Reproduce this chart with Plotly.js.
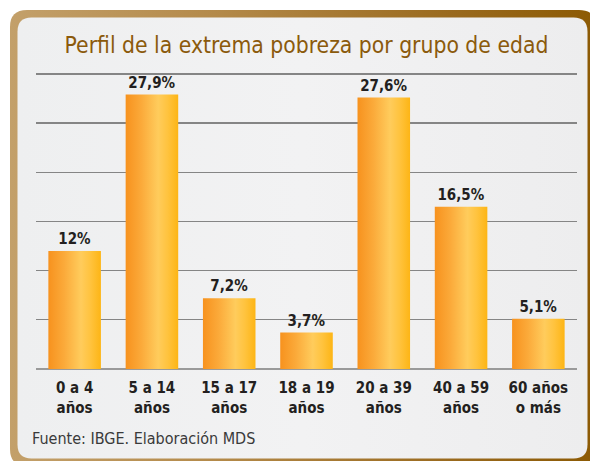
<!DOCTYPE html>
<html>
<head>
<meta charset="utf-8">
<script src="https://cdn.plot.ly/plotly-3.0.1.min.js"></script>
<style>
  html, body { margin: 0; padding: 0; background: #ffffff; }
  #chart { width: 590px; height: 461px; }
</style>
</head>
<body>
<div id="chart"></div>
<script>
// ---- Data ----
const categories = ['0 a 4 años', '5 a 14 años', '15 a 17 años', '18 a 19 años', '20 a 39 años', '40 a 59 años', '60 años o más'];
const tickLabels = ['0 a 4<br>años', '5 a 14<br>años', '15 a 17<br>años', '18 a 19<br>años', '20 a 39<br>años', '40 a 59<br>años', '60 años<br>o más'];
const values = [12, 27.9, 7.2, 3.7, 27.6, 16.5, 5.1];
const valueLabels = ['12%', '27,9%', '7,2%', '3,7%', '27,6%', '16,5%', '5,1%'];
const titleText = 'Perfil de la extrema pobreza por grupo de edad';
const sourceText = 'Fuente: IBGE. Elaboración MDS';

// ---- Layout helpers (pixel -> paper) ----
const W = 590, H = 461;
const M = { l: 36, r: 13, t: 69, b: 92 };
const PW = W - M.l - M.r, PH = H - M.t - M.b;
const px = x => ((x - M.l) / PW).toFixed(5);
const py = y => ((H - M.b - y) / PH).toFixed(5);
function roundRect(x0, y0, x1, y1, r) {
  return 'M' + px(x0 + r) + ',' + py(y0) +
    ' L' + px(x1 - r) + ',' + py(y0) +
    ' Q' + px(x1) + ',' + py(y0) + ' ' + px(x1) + ',' + py(y0 + r) +
    ' L' + px(x1) + ',' + py(y1 - r) +
    ' Q' + px(x1) + ',' + py(y1) + ' ' + px(x1 - r) + ',' + py(y1) +
    ' L' + px(x0 + r) + ',' + py(y1) +
    ' Q' + px(x0) + ',' + py(y1) + ' ' + px(x0) + ',' + py(y1 - r) +
    ' L' + px(x0) + ',' + py(y0 + r) +
    ' Q' + px(x0) + ',' + py(y0) + ' ' + px(x0 + r) + ',' + py(y0) + ' Z';
}

const NARROW = "'Liberation Sans Narrow', 'DejaVu Sans Condensed', 'Roboto', sans-serif";

const trace = {
  type: 'bar',
  x: categories,
  y: values,
  text: valueLabels,
  textposition: 'outside',
  cliponaxis: false,
  textfont: { family: NARROW, size: 15, color: '#231F20', weight: 'bold' },
  marker: { color: '#FBB12E', line: { width: 0 } },
  hoverinfo: 'none'
};

const layout = {
  width: W, height: H,
  margin: M,
  paper_bgcolor: '#ffffff',
  plot_bgcolor: 'rgba(0,0,0,0)',
  showlegend: false,
  bargap: 0.32,
  title: {
    text: titleText,
    x: 0.5, xref: 'paper', xanchor: 'center',
    y: 1 - 45 / H, yref: 'container', yanchor: 'middle',
    font: { family: NARROW, size: 22.7, color: '#8B5A0C' }
  },
  xaxis: {
    type: 'category',
    tickvals: categories,
    ticktext: tickLabels,
    ticks: '',
    ticklabelstandoff: 8,
    tickfont: { family: NARROW, size: 15, color: '#231F20', weight: 'bold' },
    showgrid: false, zeroline: false, showline: false, fixedrange: true
  },
  yaxis: {
    range: [0, 30.5],
    dtick: 5,
    showticklabels: false,
    ticks: '',
    showgrid: true, gridcolor: '#858585', gridwidth: 1.3,
    zeroline: true, zerolinecolor: '#9a9a9a', zerolinewidth: 1.5,
    showline: false, fixedrange: true
  },
  shapes: [
    { type: 'path', xref: 'paper', yref: 'paper', layer: 'below',
      path: roundRect(10, 10, 596, 466, 17), fillcolor: '#A87C38', line: { width: 0 } },
    { type: 'path', xref: 'paper', yref: 'paper', layer: 'below',
      path: roundRect(17.5, 17.5, 587.5, 458.5, 14), fillcolor: '#EEEFF0', line: { width: 0 } }
  ],
  annotations: [
    { text: sourceText, showarrow: false,
      xref: 'paper', yref: 'paper', x: px(30), y: py(439),
      xanchor: 'left', yanchor: 'middle',
      font: { family: NARROW, size: 16, color: '#3A3A3A' } }
  ]
};

Plotly.newPlot('chart', [trace], layout, { displayModeBar: false, staticPlot: true }).then(function (gd) {
  const svg = gd.querySelector('svg.main-svg');
  const NS = 'http://www.w3.org/2000/svg';
  let defs = svg.querySelector('defs');
  if (!defs) { defs = document.createElementNS(NS, 'defs'); svg.insertBefore(defs, svg.firstChild); }
  function grad(id, stops) {
    const g = document.createElementNS(NS, 'linearGradient');
    g.setAttribute('id', id);
    g.setAttribute('x1', '0'); g.setAttribute('x2', '1');
    g.setAttribute('y1', '0'); g.setAttribute('y2', '0');
    stops.forEach(function (s) {
      const st = document.createElementNS(NS, 'stop');
      st.setAttribute('offset', s[0]);
      st.setAttribute('stop-color', s[1]);
      g.appendChild(st);
    });
    defs.appendChild(g);
  }
  grad('barGrad', [[0, '#F7921E'], [0.3, '#FBAA3A'], [0.62, '#FFCC5C'], [0.8, '#FFC33E'], [1, '#FDB515']]);
  grad('frameGrad', [[0, '#C3A06A'], [0.35, '#B48A4A'], [0.75, '#9A6A1E'], [1, '#8C5A04']]);
  grad('panelGrad', [[0, '#EEEFF0'], [0.5, '#F2F2F3'], [1, '#EDEDEE']]);
  gd.querySelectorAll('.bars .point path').forEach(function (p) {
    p.style.fill = 'url(#barGrad)';
  });
  const shapePaths = gd.querySelectorAll('.layer-below .shapelayer path');
  if (shapePaths[0]) shapePaths[0].style.fill = 'url(#frameGrad)';
  if (shapePaths[1]) shapePaths[1].style.fill = 'url(#panelGrad)';
});
</script>
</body>
</html>
